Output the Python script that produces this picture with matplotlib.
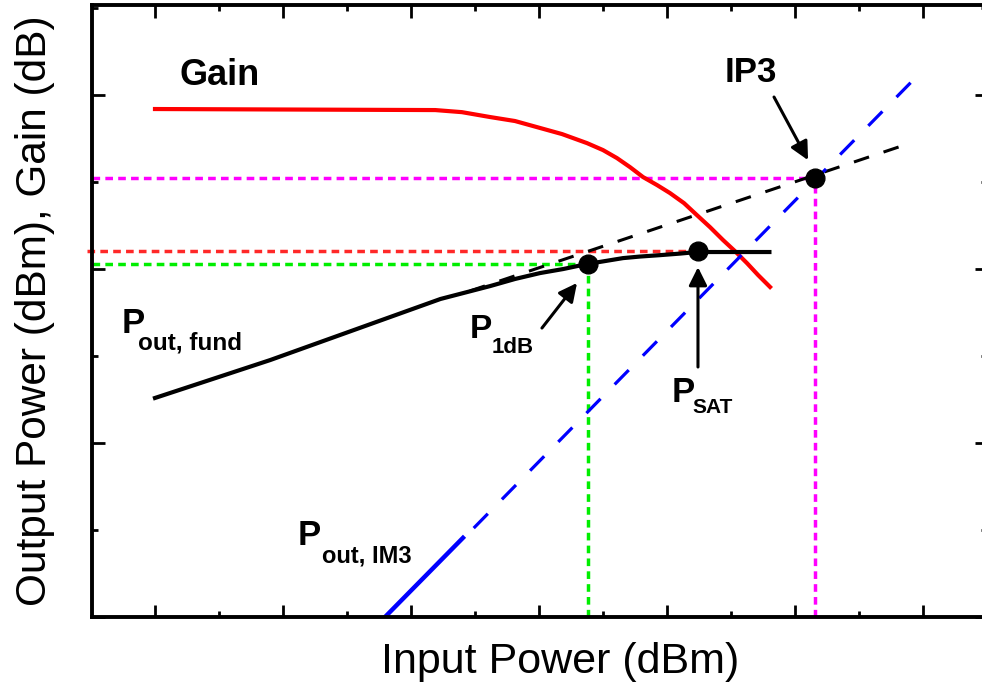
import matplotlib
matplotlib.use("Agg")
import matplotlib.pyplot as plt

plt.rcParams['font.family'] = ['Liberation Sans', 'DejaVu Sans']

# gain curve (red)
gain_x = [0, 2.19, 2.398, 2.617, 2.8125, 2.984, 3.18, 3.375, 3.5, 3.609, 3.711, 3.8125,
          3.922, 4.023, 4.133, 4.234, 4.336, 4.4375, 4.531, 4.625, 4.711, 4.805]
gain_y = [2.92, 2.914, 2.902, 2.874, 2.851, 2.816, 2.776, 2.724, 2.684, 2.638, 2.586, 2.529,
          2.483, 2.437, 2.379, 2.310, 2.241, 2.167, 2.103, 2.034, 1.966, 1.897]

# fundamental output power (black)
fund_x = [0, 0.90, 2.23, 2.617, 2.8125, 3.008, 3.1875, 3.375, 3.516, 3.656, 3.789, 3.945,
          4.102, 4.234, 4.80]
fund_y = [1.259, 1.477, 1.828, 1.902, 1.943, 1.977, 2.000, 2.029, 2.046, 2.063, 2.072, 2.080,
          2.089, 2.098, 2.098]

# extrapolated linear fundamental (black dashed)
ext_x = [2.46, 5.90]
ext_y = [1.874, 2.724]

# IM3 output (blue), solid measured part + dashed extrapolation
im3_solid_x = [1.797, 2.406]
im3_solid_y = [0.0, 0.455]
im3_ext_x = [2.49, 5.992]
im3_ext_y = [0.511, 3.138]

# key points
p1db = (3.383, 2.029)
psat = (4.242, 2.103)
ip3 = (5.16, 2.523)

xmin, xmax = -0.492, 6.5
ymin, ymax = 0, 3.517

fig = plt.figure(figsize=(9.82, 6.89), dpi=100)
ax = fig.add_axes([0.0937, 0.1045, 0.9114, 0.888])
ax.set_xlim(xmin, xmax)
ax.set_ylim(ymin, ymax)

dot = (2.2, 1.5)
ax.plot([xmin, ip3[0]], [ip3[1], ip3[1]], color='#ff00ff', lw=2.5, dashes=dot)
ax.plot([ip3[0], ip3[0]], [ymin, ip3[1]], color='#ff00ff', lw=2.5, dashes=dot)
ax.plot([xmin - 0.04, psat[0]], [psat[1], psat[1]], color='#ff2828', lw=2.5, dashes=dot, clip_on=False)
ax.plot([xmin, p1db[0]], [p1db[1], p1db[1]], color='#00ee00', lw=2.5, dashes=dot)
ax.plot([p1db[0], p1db[0]], [ymin, p1db[1]], color='#00ee00', lw=2.5, dashes=dot)

ax.plot(gain_x, gain_y, color='#ff0000', lw=3.0, solid_joinstyle='round')
ax.plot(fund_x, fund_y, color='black', lw=3.0, solid_joinstyle='round')
ax.plot(ext_x, ext_y, color='black', lw=2.2, dashes=(5.2, 5.0))
ax.plot(im3_solid_x, im3_solid_y, color='#0000ff', lw=3.2)
ax.plot(im3_ext_x, im3_ext_y, color='#0000ff', lw=2.3, dashes=(6.3, 6.3))

for px, py in (p1db, psat, ip3):
    ax.plot(px, py, 'o', color='black', ms=13.5, zorder=5)

# labels
bold = dict(fontweight='bold', color='black')
ax.text(0.195, 3.057, 'Gain', fontsize=26, **bold)
ax.text(4.453, 3.075, 'IP3', fontsize=25, **bold)

ax.text(-0.258, 1.632, 'P', fontsize=25, **bold)
ax.text(-0.133, 1.540, 'out, fund', fontsize=17.5, **bold)
ax.text(2.461, 1.603, 'P', fontsize=24, **bold)
ax.text(2.633, 1.517, '1dB', fontsize=16, **bold)
ax.text(4.039, 1.236, 'P', fontsize=25, **bold)
ax.text(4.195, 1.172, 'SAT', fontsize=15, **bold)
ax.text(1.117, 0.414, 'P', fontsize=25, **bold)
ax.text(1.305, 0.316, 'out, IM3', fontsize=17, **bold)

arrow = dict(arrowstyle='-|>,head_length=1.1,head_width=0.55', color='black', lw=2.2,
             shrinkA=0, shrinkB=0)
ax.annotate('', xy=(5.102, 2.626), xytext=(4.836, 2.989), arrowprops=arrow)
ax.annotate('', xy=(3.297, 1.920), xytext=(3.023, 1.661), arrowprops=arrow)
ax.annotate('', xy=(4.242, 2.011), xytext=(4.242, 1.437), arrowprops=arrow)

# axes styling
ax.set_xticks([0, 1, 2, 3, 4, 5, 6])
ax.set_xticks([0.5, 1.5, 2.5, 3.5, 4.5, 5.5], minor=True)
ax.set_yticks([0, 1, 2, 3])
ax.set_yticks([0.5, 1.5, 2.5, 3.5], minor=True)
ax.tick_params(which='both', direction='in', top=True, right=True,
               labelbottom=False, labelleft=False, width=2.0)
ax.tick_params(which='major', length=9)
ax.tick_params(which='minor', length=4.5)
for s in ax.spines.values():
    s.set_linewidth(2.8)

ax.set_xlabel('Input Power (dBm)', fontsize=31)
ax.xaxis.label.set_va('center')
ax.xaxis.set_label_coords(0.523, -0.0735)
ax.set_ylabel('Output Power (dBm), Gain (dB)', fontsize=30.5)
ax.yaxis.label.set_va('center')
ax.yaxis.set_label_coords(-0.064, 0.5)

fig.savefig('out.png', dpi=100)
